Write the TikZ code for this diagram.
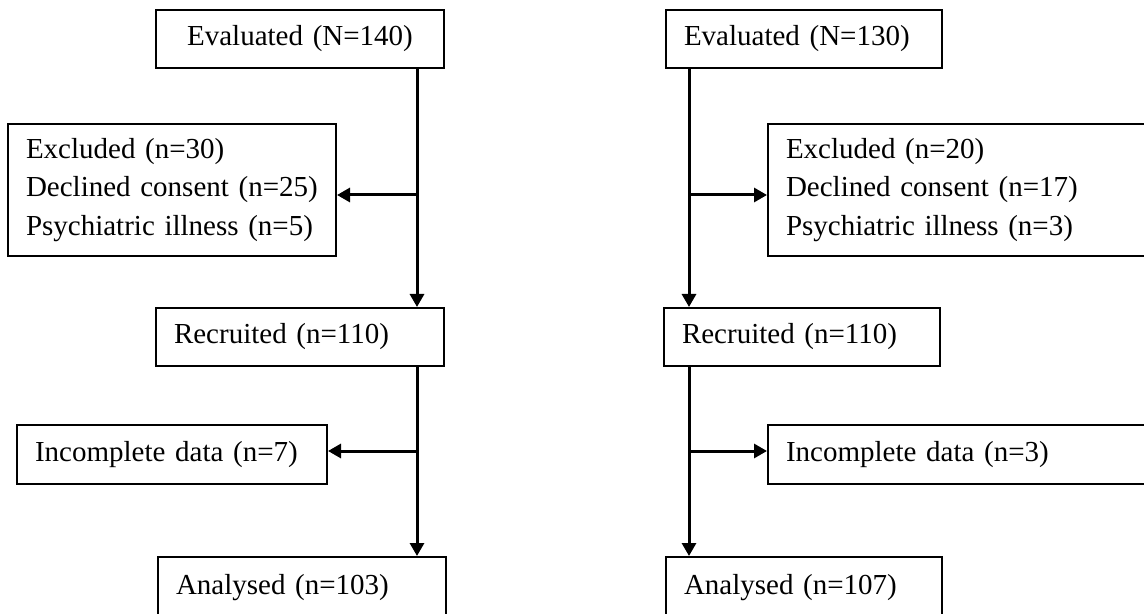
\documentclass[tikz,border=0pt]{standalone}
\usepackage{fontspec}
\setmainfont{Liberation Serif}
\usetikzlibrary{arrows.meta}

\begin{document}
\begin{tikzpicture}[x=0.5pt,y=-0.5pt,
  box/.style={draw, line width=1pt, inner xsep=9pt, inner ysep=0pt, align=left,
    anchor=north west, font=\fontsize{14.5}{19.25}\selectfont},
  arr/.style={line width=1.5pt, -{Triangle[length=6.5pt,width=7pt]}}]
\clip (0,0) rectangle (1144,614);
%\draw[help lines] (0,0) grid (1144,614);
% left arm
\node[box, align=center, text width=126pt, minimum height=29pt] (ev1) at (155,9) {Evaluated (N=140)};
\node[box, text width=146pt, minimum height=66pt] (ex1) at (7,123) {Excluded (n=30)\\Declined consent (n=25)\\Psychiatric illness (n=5)};
\node[box, text width=126pt, minimum height=29pt] (rc1) at (155,307) {Recruited (n=110)};
\node[box, text width=137pt, minimum height=29.5pt] (in1) at (16,424) {Incomplete data (n=7)};
\node[box, text width=126pt, minimum height=31pt] (an1) at (157,556) {Analysed (n=103)};
\coordinate (sp1) at (417,195);
\coordinate (sq1) at (417,451);
\draw[arr] (sp1 |- ev1.south) -- (sp1 |- rc1.north);
\draw[arr] (sp1) -- (sp1 -| ex1.east);
\draw[arr] (sq1 |- rc1.south) -- (sq1 |- an1.north);
\draw[arr] (sq1) -- (sq1 -| in1.east);
% right arm
\node[box, text width=120pt, minimum height=29pt] (ev2) at (665,9) {Evaluated (N=130)};
\node[box, text width=182pt, minimum height=66pt] (ex2) at (767,123) {Excluded (n=20)\\Declined consent (n=17)\\Psychiatric illness (n=3)};
\node[box, text width=120pt, minimum height=29pt] (rc2) at (663,307) {Recruited (n=110)};
\node[box, text width=182pt, minimum height=29.5pt] (in2) at (767,424) {Incomplete data (n=3)};
\node[box, text width=120pt, minimum height=31pt] (an2) at (665,556) {Analysed (n=107)};
\coordinate (sp2) at (689,195);
\coordinate (sq2) at (689,451);
\draw[arr] (sp2 |- ev2.south) -- (sp2 |- rc2.north);
\draw[arr] (sp2) -- (sp2 -| ex2.west);
\draw[arr] (sq2 |- rc2.south) -- (sq2 |- an2.north);
\draw[arr] (sq2) -- (sq2 -| in2.west);
\end{tikzpicture}
\end{document}
